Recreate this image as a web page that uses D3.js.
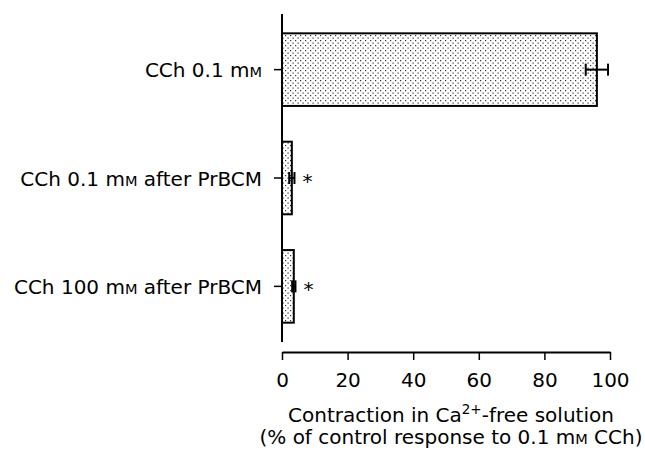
<!DOCTYPE html>
<html><head><meta charset="utf-8">
<script src="https://cdn.jsdelivr.net/npm/d3@7"></script>
<style>body{margin:0;background:#fff}svg{display:block}text{font-family:"DejaVu Sans",sans-serif;fill:#000}</style>
</head><body><svg id="c" width="645" height="450"></svg>
<script>
const categories = ["CCh 0.1 mM", "CCh 0.1 mM after PrBCM", "CCh 100 mM after PrBCM"];
const values = [96, 3.0, 3.6];
const errors = [3.4, 0.8, 0.5];
const significant = [false, true, true];
const xTicks = [0, 20, 40, 60, 80, 100];

const FS = 20, SC = 14.5;
const svg = d3.select("#c");
const defs = svg.append("defs");
const pat = defs.append("pattern").attr("id","dots").attr("patternUnits","userSpaceOnUse")
  .attr("width",5).attr("height",5);
pat.append("rect").attr("width",5).attr("height",5).attr("fill","#fff");
pat.append("rect").attr("x",0).attr("y",0).attr("width",1.2).attr("height",1.2).attr("fill","#333");
pat.append("rect").attr("x",2.5).attr("y",2.5).attr("width",1.2).attr("height",1.2).attr("fill","#333");

const x = d3.scaleLinear().domain([0,100]).range([282,610]);
const y = d3.scaleBand().domain(categories).range([16,340]).paddingInner(0.33).paddingOuter(0.16);

// y axis
svg.append("line").attr("x1",282).attr("x2",282).attr("y1",14).attr("y2",342).attr("stroke","#000").attr("stroke-width",2);
categories.forEach((c,i)=>{
  const cy = y(c)+y.bandwidth()/2;
  svg.append("line").attr("x1",274).attr("x2",282).attr("y1",cy).attr("y2",cy).attr("stroke","#000").attr("stroke-width",1.5);
  const t = svg.append("text").attr("x",262).attr("y",cy+7.5).attr("text-anchor","end").attr("font-size",FS);
  const parts = c.split("mM");
  t.append("tspan").text(parts[0]+"m");
  t.append("tspan").attr("font-size",SC).text("M");
  t.append("tspan").text(parts[1]);
});

// bars
svg.selectAll("rect.bar").data(values).enter().append("rect").attr("class","bar")
  .attr("x",x(0)).attr("y",(d,i)=>y(categories[i]))
  .attr("width",d=>x(d)-x(0)).attr("height",y.bandwidth())
  .attr("fill","url(#dots)").attr("stroke","#000").attr("stroke-width",2);

// error bars
values.forEach((v,i)=>{
  const cy = y(categories[i])+y.bandwidth()/2;
  const g = svg.append("g").attr("stroke","#000").attr("stroke-width",2);
  g.append("line").attr("x1",x(v-errors[i])).attr("x2",x(v+errors[i])).attr("y1",cy).attr("y2",cy);
  [v-errors[i], v+errors[i]].forEach(e=>g.append("line").attr("x1",x(e)).attr("x2",x(e)).attr("y1",cy-6).attr("y2",cy+6));
  if (significant[i]) svg.append("text").attr("x",x(v+errors[i])+8).attr("y",cy+10).attr("font-size",20).attr("text-anchor","start").text("*");
});

// x axis
const ax = svg.append("g").attr("transform","translate(0,352)")
  .call(d3.axisBottom(x).tickValues(xTicks).tickSize(8).tickSizeOuter(0).tickPadding(13));
ax.select(".domain").attr("stroke-width",2);
ax.selectAll(".tick line").attr("stroke-width",1.5);
ax.selectAll(".tick text").attr("font-size",FS).attr("font-family","DejaVu Sans, sans-serif");

const t1 = svg.append("text").attr("x",451).attr("y",422).attr("text-anchor","middle").attr("font-size",FS);
t1.append("tspan").text("Contraction in Ca");
t1.append("tspan").attr("font-size",13.5).attr("dy",-8).text("2+");
t1.append("tspan").attr("dy",8).text("-free solution");
const t2 = svg.append("text").attr("x",451).attr("y",444).attr("text-anchor","middle").attr("font-size",FS);
t2.append("tspan").text("(% of control response to 0.1 m");
t2.append("tspan").attr("font-size",SC).text("M");
t2.append("tspan").text(" CCh)");
</script></body></html>
